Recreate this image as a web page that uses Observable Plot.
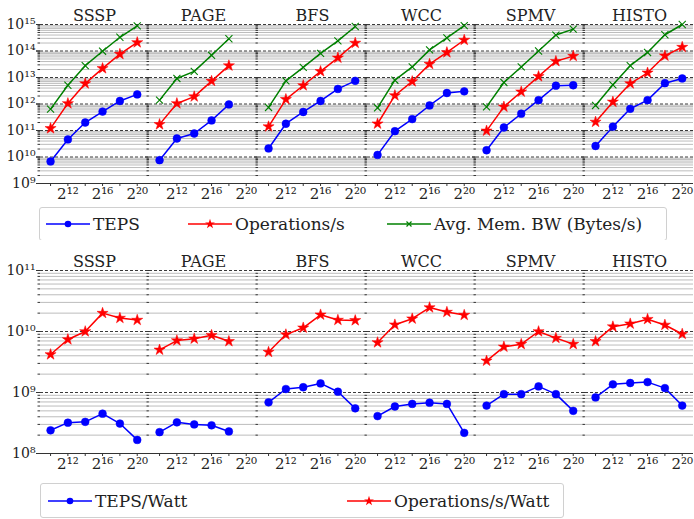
<!DOCTYPE html>
<html><head><meta charset="utf-8">
<script src="https://cdn.jsdelivr.net/npm/d3@7"></script>
<script src="https://cdn.jsdelivr.net/npm/@observablehq/plot@0.6"></script>
<style>
body{margin:0;background:#fff;font-family:"DejaVu Serif",serif;}
#wrap{position:relative;width:694px;height:519px;overflow:hidden;background:#fff}
.plot{position:absolute;left:0}
.legend{position:absolute;border:1px solid #d0d0d0;border-radius:3px;background:#fff;box-sizing:border-box}
.item{position:absolute;top:0;height:100%;display:flex;align-items:center;font-size:17px;color:#222;white-space:nowrap}
.item svg{display:block;margin-right:3px}
</style></head>
<body>
<div id="wrap"></div>
<script>
// ---------- data ----------
const algs = ["SSSP", "PAGE", "BFS", "WCC", "SPMV", "HISTO"];
const exps = [10, 12, 14, 16, 18, 20];           // problem size = 2^exp
const xTickExps = [10, 12, 14, 16, 18, 20];
const xLabelExps = [12, 16, 20];

// top row (per algorithm, in algs order)
const teps = [
  [6.8e9, 4.6e10, 2.0e11, 5.2e11, 1.3e12, 2.3e12],
  [7.6e9, 5.0e10, 7.7e10, 2.4e11, 9.6e11],
  [2.1e10, 1.8e11, 5.0e11, 1.3e12, 3.7e12, 7.5e12],
  [1.2e10, 9.4e10, 2.7e11, 8.8e11, 2.6e12, 3.0e12],
  [1.8e10, 1.3e11, 4.3e11, 1.4e12, 4.9e12, 5.1e12],
  [2.6e10, 1.4e11, 6.6e11, 1.4e12, 6.1e12, 9.2e12]
];
const opsPerSec = [
  [1.2e11, 1.05e12, 5.9e12, 2.2e13, 7.6e13, 2.1e14],
  [1.7e11, 1.05e12, 1.9e12, 7.3e12, 2.8e13],
  [1.4e11, 1.5e12, 5.0e12, 1.7e13, 5.5e13, 2.0e14],
  [1.8e11, 2.1e12, 7.1e12, 3.2e13, 8.8e13, 2.6e14],
  [9.7e10, 7.8e11, 2.9e12, 1.1e13, 4.1e13, 6.4e13],
  [2.1e11, 1.2e12, 5.9e12, 1.5e13, 6.6e13, 1.4e14]
];
const memBW = [
  [6.4e11, 5.1e12, 2.8e13, 9.8e13, 3.3e14, 8.9e14],
  [1.4e12, 9.2e12, 1.7e13, 6.9e13, 2.9e14],
  [7.4e11, 7.5e12, 2.4e13, 8.1e13, 2.4e14, 8.4e14],
  [7.2e11, 7.9e12, 2.5e13, 1.1e14, 3.1e14, 9.1e14],
  [7.8e11, 6.5e12, 2.5e13, 1.0e14, 4.0e14, 6.7e14],
  [8.8e11, 5.3e12, 2.8e13, 8.8e13, 4.1e14, 1.0e15]
];
// bottom row
const tepsPerWatt = [
  [2.4e8, 3.2e8, 3.3e8, 4.5e8, 3.1e8, 1.67e8],
  [2.24e8, 3.24e8, 3.0e8, 2.9e8, 2.3e8],
  [6.9e8, 1.14e9, 1.22e9, 1.41e9, 1.03e9, 5.5e8],
  [4.1e8, 5.9e8, 6.5e8, 6.8e8, 6.5e8, 2.18e8],
  [6.1e8, 9.4e8, 9.4e8, 1.26e9, 9.4e8, 5.0e8],
  [8.3e8, 1.36e9, 1.43e9, 1.48e9, 1.18e9, 6.1e8]
];
const opsPerWatt = [
  [4.2e9, 7.4e9, 1.0e10, 2.0e10, 1.66e10, 1.54e10],
  [5.0e9, 7.1e9, 7.6e9, 8.7e9, 6.9e9],
  [4.6e9, 8.9e9, 1.15e10, 1.88e10, 1.54e10, 1.52e10],
  [6.6e9, 1.29e10, 1.62e10, 2.47e10, 2.08e10, 1.86e10],
  [3.3e9, 5.6e9, 6.2e9, 1.0e10, 7.8e9, 6.2e9],
  [6.9e9, 1.2e10, 1.34e10, 1.59e10, 1.28e10, 9.1e9]
];
const topSeries = [
  {name: "TEPS", values: teps, color: "#0000ff", symbol: "circle"},
  {name: "Operations/s", values: opsPerSec, color: "#ff0000", symbol: "star"},
  {name: "Avg. Mem. BW (Bytes/s)", values: memBW, color: "#008000", symbol: "times"}
];
const bottomSeries = [
  {name: "TEPS/Watt", values: tepsPerWatt, color: "#0000ff", symbol: "circle"},
  {name: "Operations/s/Watt", values: opsPerWatt, color: "#ff0000", symbol: "star"}
];

// ---------- helpers ----------
const supMap = {"0":"⁰","1":"¹","2":"²","3":"³","4":"⁴","5":"⁵","6":"⁶","7":"⁷","8":"⁸","9":"⁹","-":"⁻"};
const sup = n => String(n).split("").map(c => supMap[c]).join("");
const fmt10 = d => "10" + sup(Math.round(Math.log10(d)));
const fmt2 = d => "2" + sup(Math.round(Math.log2(d)));

function markFor(s) {
  const opts = {x: "x", y: "v", fx: "alg"};
  if (s.symbol === "circle") return Plot.dot(s.rows, {...opts, r: 3.9, fill: s.color, stroke: s.color, strokeWidth: 0.5});
  if (s.symbol === "star") return Plot.dot(s.rows, {...opts, symbol: "star", r: 3.5, fill: s.color, stroke: s.color, strokeWidth: 0.5});
  return Plot.dot(s.rows, {...opts, symbol: "times", r: 3.3, stroke: s.color, strokeWidth: 1.1});
}

function makeRow(series, lo, hi, height, marginTop, marginBottom) {
  series.forEach(s => {
    s.rows = [];
    s.values.forEach((arr, ai) => arr.forEach((v, i) => s.rows.push({alg: algs[ai], x: 2 ** exps[i], v})));
  });
  const majors = d3.range(lo, hi + 1).map(e => 10 ** e);
  const minors = [];
  for (let e = lo; e < hi; e++) for (let k = 2; k <= 9; k++) minors.push(k * 10 ** e);
  const xTicks = xTickExps.map(e => 2 ** e);
  const xLabels = xLabelExps.map(e => 2 ** e);
  return Plot.plot({
    width: 694, height, marginLeft: 38, marginRight: 0, marginTop, marginBottom,
    style: {fontFamily: "DejaVu Serif", background: "white", color: "#222", overflow: "visible"},
    fx: {domain: algs, padding: 0.012, label: null},
    x: {type: "log", base: 2, domain: [2 ** 8.84, 2 ** 21.3], label: null},
    y: {type: "log", domain: [10 ** lo, 10 ** hi], label: null},
    marks: [
      Plot.ruleY(minors, {stroke: "#bcbcbc", strokeWidth: 1}),
      Plot.ruleY(majors, {stroke: "#3a3a3a", strokeWidth: 1, strokeDasharray: "3,2"}),
      Plot.ruleY([10 ** lo], {stroke: "#333", strokeWidth: 1}),
      Plot.axisY({ticks: minors, tickSize: 2.5, fill: "none", stroke: "#333", facetAnchor: null, label: null}),
      Plot.axisY({ticks: majors, tickSize: 4, fill: "none", stroke: "#333", facetAnchor: null, label: null}),
      Plot.axisY({ticks: majors, tickSize: 4, tickPadding: 1, tickFormat: fmt10, fontSize: 14, stroke: "#333", label: null}),
      Plot.axisX({ticks: xTicks, tickSize: 3, fill: "none", stroke: "#333", label: null}),
      Plot.axisX({ticks: xLabels, tickSize: 0, tickPadding: 5, tickFormat: fmt2, fontSize: 15, label: null}),
      Plot.axisFx({anchor: "top", tickSize: 0, tickPadding: 4, fontSize: 16, label: null}),
      ...series.map(s => Plot.line(s.rows, {x: "x", y: "v", fx: "alg", stroke: s.color, strokeWidth: 1.5})),
      ...series.map(markFor)
    ]
  });
}

function symbolSvg(color, symbol) {
  let shape;
  if (symbol === "circle") shape = `<circle cx="22" cy="8" r="3.3" fill="${color}"/>`;
  else if (symbol === "star") shape = `<path transform="translate(22,8)" d="${d3.symbol(d3.symbolStar, 30)()}" fill="${color}"/>`;
  else shape = `<path transform="translate(22,8)" d="${d3.symbol(d3.symbolTimes, 18)()}" stroke="${color}" stroke-width="1.2" fill="none"/>`;
  return `<svg width="44" height="16"><line x1="0" x2="44" y1="8" y2="8" stroke="${color}" stroke-width="1.5"/>${shape}</svg>`;
}

function makeLegend(series, box, offsets) {
  const div = document.createElement("div");
  div.className = "legend";
  Object.assign(div.style, {left: box[0] + "px", top: box[1] + "px", width: box[2] + "px", height: box[3] + "px"});
  series.forEach((s, i) => {
    const it = document.createElement("div");
    it.className = "item";
    it.style.left = offsets[i] + "px";
    it.innerHTML = symbolSvg(s.color, s.symbol) + `<span>${s.name}</span>`;
    div.appendChild(it);
  });
  return div;
}

const wrap = document.getElementById("wrap");
const top1 = makeRow(topSeries, 9, 15, 207, 24, 24);
top1.classList.add("plot"); top1.style.top = "0px";
wrap.appendChild(top1);
wrap.appendChild(makeLegend(topSeries, [39, 207, 628, 34], [6, 148, 347]));
const bot = makeRow(bottomSeries, 8, 11, 237, 30, 24);
bot.classList.add("plot"); bot.style.top = "240px";
wrap.appendChild(bot);
wrap.appendChild(makeLegend(bottomSeries, [40, 483, 524, 35], [7, 306]));
</script>
</body></html>
